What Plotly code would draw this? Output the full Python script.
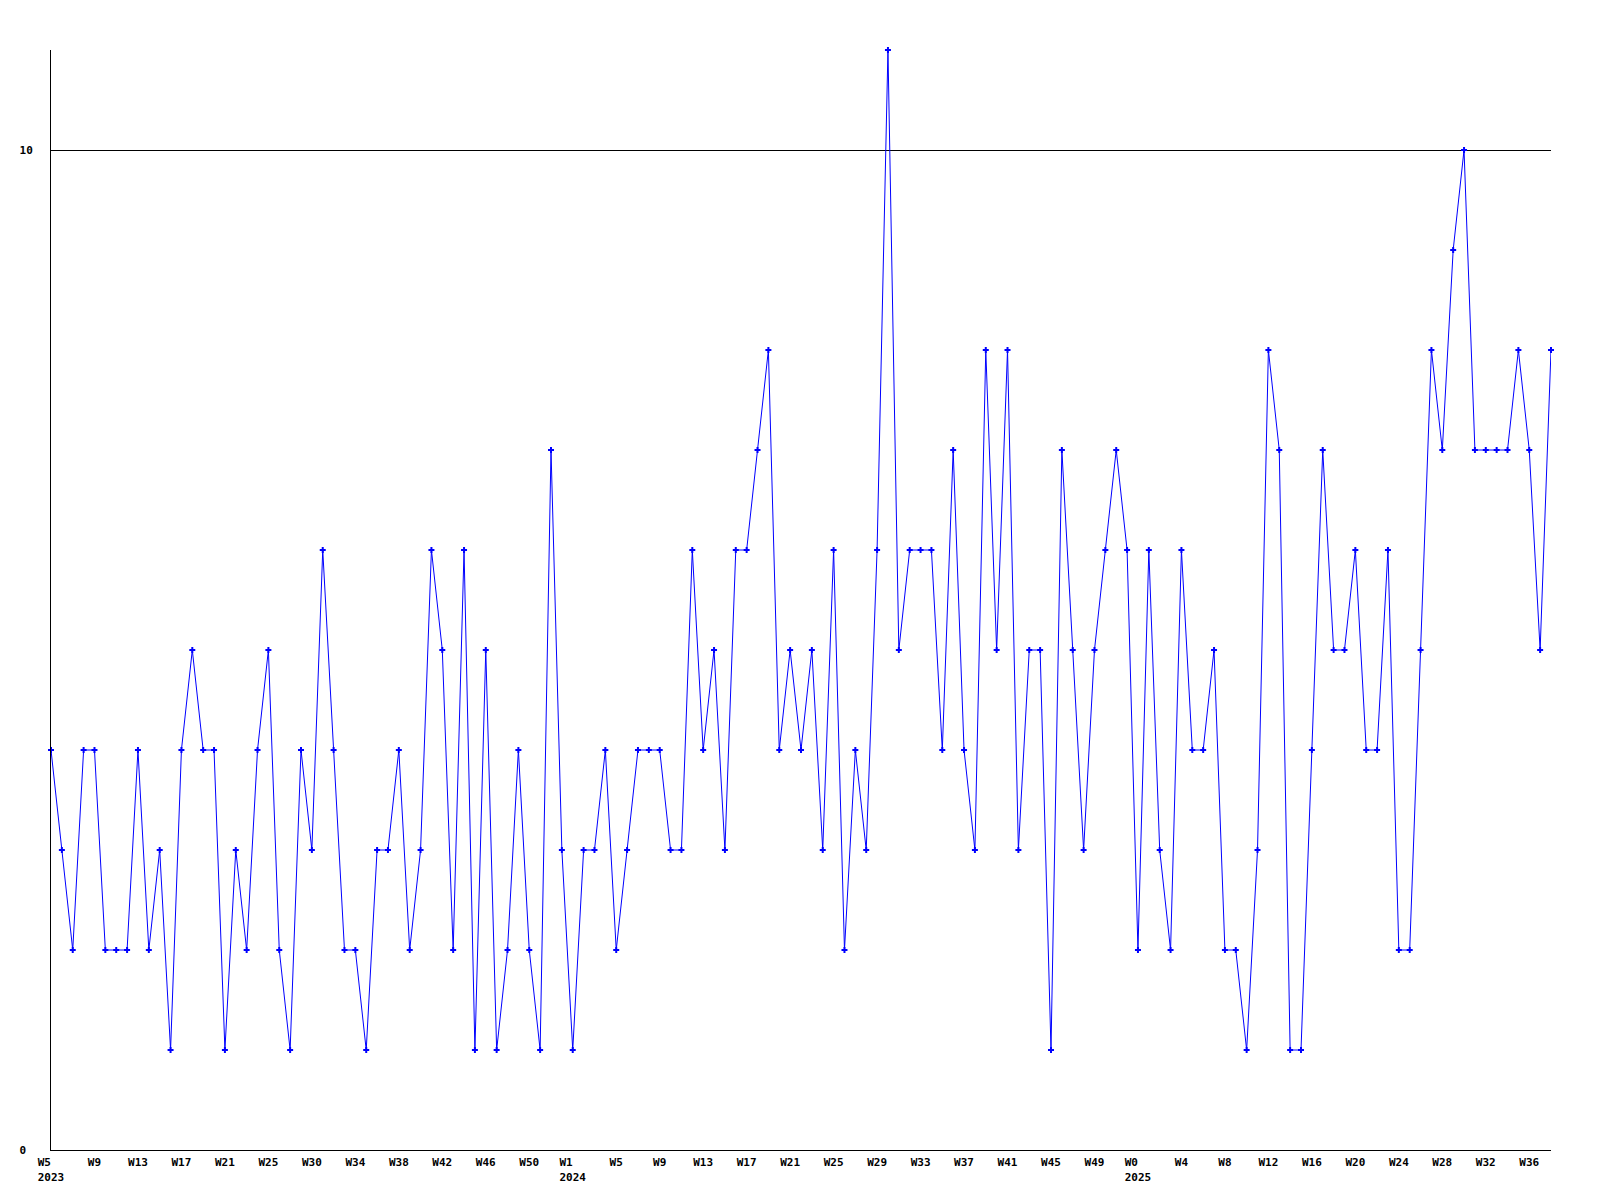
import plotly.graph_objects as go

# weekly counts, 2023 W5 .. 2025 (one point per week, in order)
values = [4, 3, 2, 4, 4, 2, 2, 2, 4, 2,
          3, 1, 4, 5, 4, 4, 1, 3, 2, 4,
          5, 2, 1, 4, 3, 6, 4, 2, 2, 1,
          3, 3, 4, 2, 3, 6, 5, 2, 6, 1,
          5, 1, 2, 4, 2, 1, 7, 3, 1, 3,
          3, 4, 2, 3, 4, 4, 4, 3, 3, 6,
          4, 5, 3, 6, 6, 7, 8, 4, 5, 4,
          5, 3, 6, 2, 4, 3, 6, 11, 5, 6,
          6, 6, 4, 7, 4, 3, 8, 5, 8, 3,
          5, 5, 1, 7, 5, 3, 5, 6, 7, 6,
          2, 6, 3, 2, 6, 4, 4, 5, 2, 2,
          1, 3, 8, 7, 1, 1, 4, 7, 5, 5,
          6, 4, 4, 6, 2, 2, 5, 8, 7, 9,
          10, 7, 7, 7, 7, 8, 7, 5, 8]
point_index = list(range(len(values)))

# x tick labels (point index where each label sits)
tick_index = list(range(0, 137, 4))
tick_weeks = ["W5", "W9", "W13", "W17", "W21", "W25", "W30", "W34", "W38", "W42", "W46", "W50",
              "W1", "W5", "W9", "W13", "W17", "W21", "W25", "W29", "W33", "W37", "W41", "W45", "W49",
              "W0", "W4", "W8", "W12", "W16", "W20", "W24", "W28", "W32", "W36"]
tick_years = {0: "2023", 12: "2024", 25: "2025"}

tick_text = []
for k, w in enumerate(tick_weeks):
    if k in tick_years:
        y = tick_years[k]
        tick_text.append(w + "\u00a0" * (len(y) - len(w)) + "<br>" + y)
    else:
        tick_text.append(w)

y_tick_vals = [0, 10]
y_tick_text = ["0\u00a0", "10"]

FONT = dict(family="DejaVu Sans Mono", size=11, color="black", weight="bold")

fig = go.Figure()
fig.add_trace(go.Scatter(
    x=point_index, y=values, mode="lines+markers",
    line=dict(color="#0000ff", width=1),
    marker=dict(symbol="cross", size=5, color="#0000ff", line=dict(width=0)),
    cliponaxis=False, showlegend=False,
))

fig.update_layout(
    width=1600, height=1200,
    margin=dict(l=43, r=57, t=42, b=58),
    paper_bgcolor="white", plot_bgcolor="white",
    font=FONT,
)
fig.update_xaxes(
    range=[0, len(values) - 1], showgrid=False, zeroline=False,
    showline=True, linecolor="black", linewidth=1,
    tickmode="array", tickvals=tick_index, ticktext=tick_text,
    ticks="", tickfont=FONT, ticklabelstandoff=2,
)
fig.update_yaxes(
    range=[0, 11], showgrid=True, gridcolor="black", gridwidth=1, zeroline=False,
    showline=True, linecolor="black", linewidth=1,
    tickmode="array", tickvals=y_tick_vals, ticktext=y_tick_text,
    ticks="", tickfont=FONT, ticklabelstandoff=15,
)

fig.write_html("out.html")
